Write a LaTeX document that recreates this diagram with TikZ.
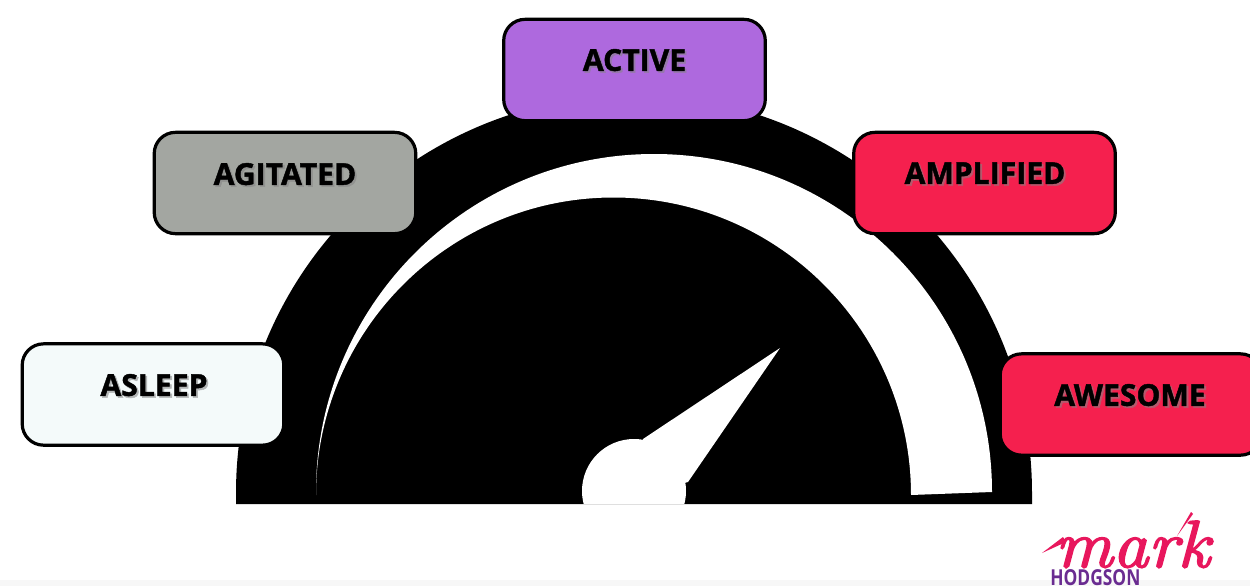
\documentclass[tikz,border=0pt]{standalone}
\usepackage{fontspec}
\setmainfont{Open Sans}[BoldFeatures={FakeBold=1.4}]
\newfontfamily\logofont{Latin Modern Roman}[ItalicFeatures={FakeBold=2.5}]
\newfontfamily\logosans{Open Sans}
\definecolor{cpurple}{HTML}{AE69DE}
\definecolor{cgrey}{HTML}{A3A6A1}
\definecolor{cred}{HTML}{F5204E}
\definecolor{cpale}{HTML}{F4FAFA}
\definecolor{cpink}{HTML}{E8175D}
\definecolor{cviolet}{HTML}{6A2C91}
\newcommand{\softtext}[2]{\rlap{\kern1.4pt\raisebox{-1.4pt}{\textcolor{#1!60!black!70!white}{#2}}}#2}
\tikzset{
  panel/.style={draw=black,line width=2.4pt,rounded corners=16pt,minimum width=196.2pt,minimum height=76pt,inner sep=0pt,fill=#1},
  caption/.style={font=\bfseries\fontsize{22.6}{25}\selectfont,text=black,inner sep=0pt},
}
\begin{document}
\begin{tikzpicture}[x=0.75pt,y=-0.75pt]
\useasboundingbox (0,0) rectangle (1250,586);
\fill[white] (0,0) rectangle (1250,586);
\fill[black!3] (0,580) rectangle (1250,586);
% dial
\fill[black] (236,504) -- (236,493) arc[start angle=180,end angle=360,radius=398] -- (1032,504) -- cycle;
% white crescent
\fill[white] (316,492) arc[start angle=180,end angle=360,radius=338] -- (911,495) arc[start angle=360,end angle=180,radius=297.5] -- cycle;
% needle
\begin{scope}
\clip (500,300) rectangle (900,503);
\fill[white] (634,491) circle[radius=52];
\fill[white] (780,348) -- (643,439) -- (640,495) -- (688,482) -- cycle;
\end{scope}
% panels
\node[panel=cpurple] (active) at (634.5,70) {};
\node[panel=cgrey] (agitated) at (285,183) {};
\node[panel=cred] (amplified) at (984.5,183) {};
\node[panel=cpale] (asleep) at (153,394.5) {};
\node[panel=cred] (awesome) at (1131,404.5) {};
\node[caption] (t1) at (634.5,61) {\softtext{cpurple}{ACTIVE}};
\node[caption] (t2) at (285,175) {\softtext{cgrey}{AGITATED}};
\node[caption] (t3) at (985,174) {\softtext{cred}{AMPLIFIED}};
\node[caption] (t4) at (154,386) {\softtext{cpale}{ASLEEP}};
\node[caption] (t5) at (1130,396) {\softtext{cred}{AWESOME}};
% logo
\node[inner sep=0pt,text=cpink,anchor=south east] (mark) at (1210,568) {\scalebox{1.07}[1]{\logofont\itshape\fontsize{50}{50}\selectfont mark}};
\fill[cpink] (1042,553) -- (1063,537) -- (1066,542) -- cycle;
\fill[cpink] (1177,536) -- (1191,512) -- (1193,514) -- cycle;
\node[inner sep=0pt,text=cviolet,anchor=south west] (hodgson) at (1050,585.5) {\scalebox{0.79}[1]{\logosans\bfseries\fontsize{16.5}{17}\selectfont HODGSON}};
\end{tikzpicture}
\end{document}
